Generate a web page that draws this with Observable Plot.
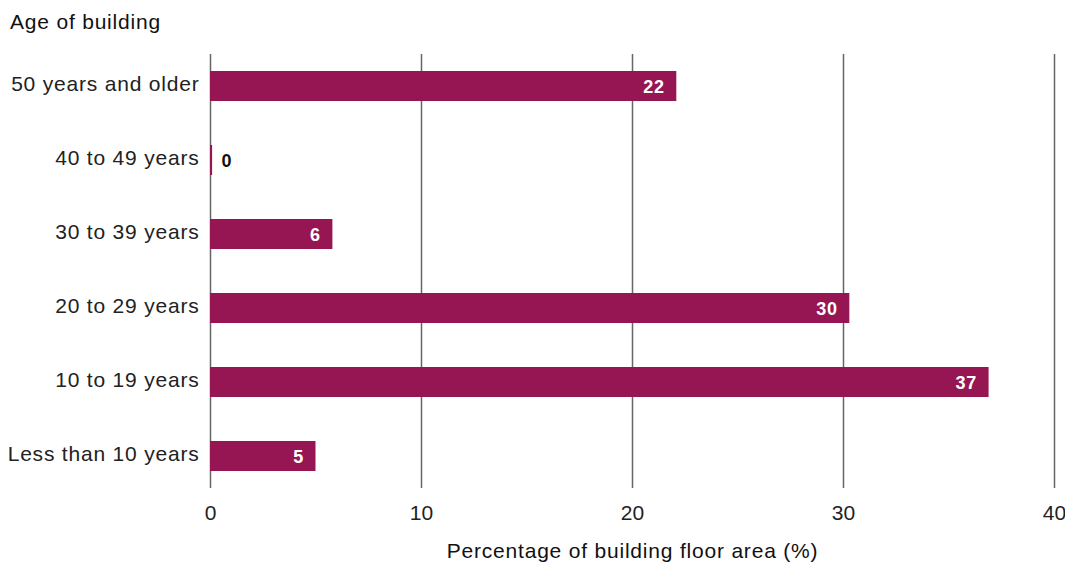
<!DOCTYPE html>
<html><head><meta charset="utf-8">
<script src="https://cdn.jsdelivr.net/npm/d3@7"></script>
<script src="https://cdn.jsdelivr.net/npm/@observablehq/plot@0.6"></script>
<style>
body{margin:0;background:#fff;font-family:"Liberation Sans",Arial,sans-serif;}
#title{height:44px;line-height:44px;padding-left:10px;font-size:21px;letter-spacing:0.8px;color:#111;}
svg text{letter-spacing:0.8px;}
svg g[aria-label="x-axis tick label"] text{letter-spacing:0;}
</style></head><body>
<div id="title">Age of building</div>
<div id="chart"></div>
<script>
const categories = ["50 years and older","40 to 49 years","30 to 39 years","20 to 29 years","10 to 19 years","Less than 10 years"];
const values = [22.1, 0.1, 5.8, 30.3, 36.9, 5.0];
const valueLabels = ["22","0","6","30","37","5"];
const xTicks = [0,10,20,30,40];
const xTitle = "Percentage of building floor area (%)";

const data = categories.map((c,i)=>({category:c, value:values[i], label:valueLabels[i]}));

const chart = Plot.plot({
  width:1065, height:520,
  marginLeft:210, marginRight:11, marginTop:10, marginBottom:76,
  style:{fontFamily:'"Liberation Sans",Arial,sans-serif', fontSize:"21px", color:"#222", background:"#fff"},
  x:{domain:[0,40], label:null},
  y:{domain:categories, paddingInner:0.598, paddingOuter:0.208, align:0.5, label:null},
  marks:[
    Plot.ruleX(xTicks,{stroke:"#666", strokeWidth:1.5}),
    Plot.barX(data,{x:"value", y:"category", fill:"#961653"}),
    Plot.axisX({ticks:xTicks, tickSize:0, tickPadding:17, label:null}),
    Plot.axisY({tickSize:0, tickPadding:11, dy:-2, label:null}),
    Plot.text(data.filter(d=>d.value>=1),{x:"value", y:"category", text:"label", textAnchor:"end", dx:-12, dy:1, fill:"white", fontWeight:"bold", fontSize:18}),
    Plot.text(data.filter(d=>d.value<1),{x:"value", y:"category", text:"label", textAnchor:"start", dx:9, dy:1, fill:"#111", fontWeight:"bold", fontSize:18}),
    Plot.text([xTitle],{frameAnchor:"bottom", dy:69, text:d=>d, fontSize:21, fill:"#111"})
  ]
});
document.getElementById("chart").appendChild(chart);
</script>
</body></html>
